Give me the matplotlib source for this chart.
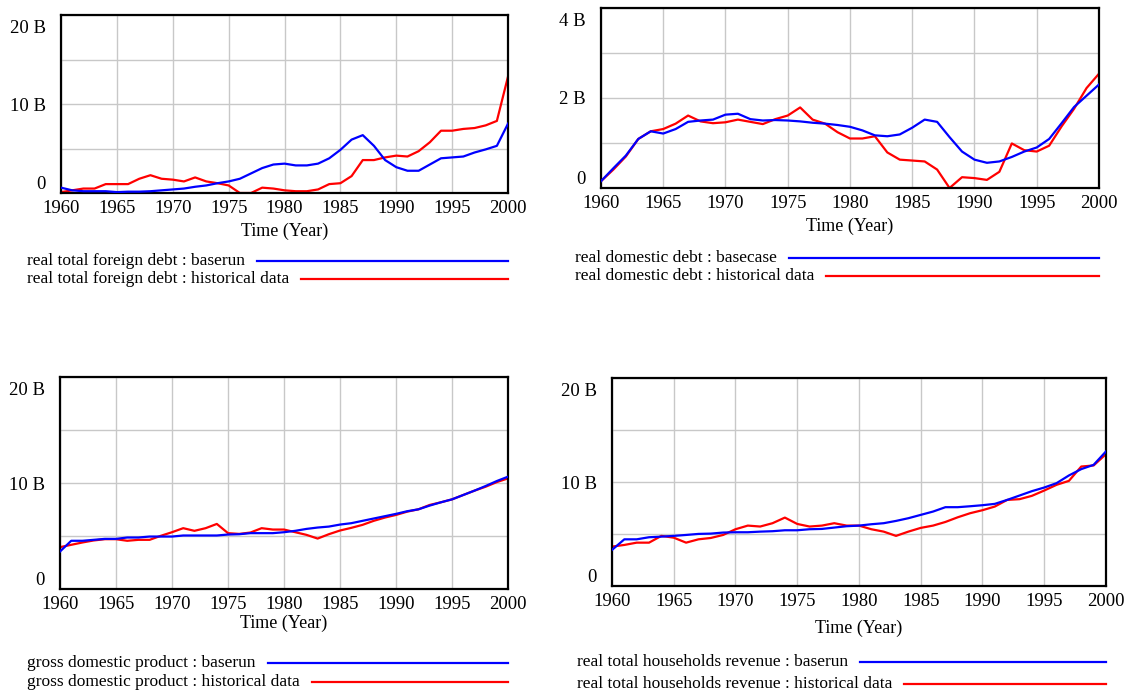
import matplotlib
matplotlib.use("Agg")
import matplotlib.pyplot as plt
from matplotlib.lines import Line2D
from matplotlib.transforms import ScaledTranslation
import numpy as np

plt.rcParams["font.family"] = ["Liberation Serif", "DejaVu Serif"]

years = np.arange(1960, 2001)

# real total foreign debt (billions)
foreign_base = [0.6, 0.3, 0.2, 0.2, 0.2, 0.1, 0.15, 0.15, 0.2, 0.3,
                0.4, 0.5, 0.7, 0.85, 1.1, 1.3, 1.6, 2.2, 2.8, 3.2,
                3.3, 3.1, 3.1, 3.3, 3.9, 4.85, 6.0, 6.5, 5.3, 3.7,
                2.9, 2.5, 2.5, 3.2, 3.9, 4.0, 4.1, 4.55, 4.9, 5.3, 7.8]
foreign_hist = [0.1, 0.3, 0.5, 0.5, 1.0, 1.0, 1.0, 1.6, 2.0, 1.6,
                1.5, 1.3, 1.75, 1.3, 1.1, 0.85, 0.0, 0.0, 0.6, 0.5,
                0.3, 0.2, 0.2, 0.4, 1.0, 1.1, 1.9, 3.7, 3.7, 4.0,
                4.2, 4.1, 4.7, 5.7, 7.0, 7.0, 7.2, 7.3, 7.6, 8.1, 13.1]

# real domestic debt (billions)
domestic_base = [0.15, 0.44, 0.72, 1.09, 1.26, 1.21, 1.31, 1.47, 1.50, 1.52,
                 1.63, 1.65, 1.53, 1.50, 1.51, 1.50, 1.48, 1.45, 1.43, 1.40,
                 1.36, 1.28, 1.17, 1.15, 1.19, 1.34, 1.52, 1.47, 1.13, 0.81,
                 0.63, 0.56, 0.59, 0.69, 0.81, 0.90, 1.09, 1.44, 1.80, 2.05, 2.30]
domestic_hist = [0.15, 0.41, 0.70, 1.09, 1.26, 1.31, 1.43, 1.61, 1.48, 1.44,
                 1.46, 1.52, 1.47, 1.42, 1.53, 1.61, 1.79, 1.52, 1.43, 1.24,
                 1.10, 1.10, 1.15, 0.79, 0.63, 0.61, 0.59, 0.41, 0.0, 0.24,
                 0.22, 0.18, 0.36, 0.99, 0.84, 0.81, 0.94, 1.37, 1.76, 2.22, 2.54]

# gross domestic product (billions)
gdp_base = [3.54, 4.55, 4.55, 4.64, 4.73, 4.73, 4.86, 4.86, 4.95, 4.95,
            4.95, 5.05, 5.05, 5.05, 5.05, 5.14, 5.17, 5.27, 5.27, 5.27,
            5.36, 5.49, 5.67, 5.80, 5.89, 6.08, 6.21, 6.43, 6.65, 6.87,
            7.09, 7.34, 7.52, 7.87, 8.18, 8.46, 8.87, 9.28, 9.72, 10.19, 10.60]
gdp_hist = [3.95, 4.17, 4.39, 4.58, 4.70, 4.70, 4.55, 4.64, 4.64, 5.02,
            5.36, 5.74, 5.49, 5.74, 6.14, 5.27, 5.20, 5.33, 5.74, 5.61,
            5.61, 5.36, 5.11, 4.76, 5.17, 5.52, 5.77, 6.05, 6.43, 6.74,
            6.99, 7.30, 7.52, 7.93, 8.18, 8.46, 8.87, 9.28, 9.65, 10.09, 10.44]

# real total households revenue (billions)
house_base = [3.47, 4.49, 4.49, 4.69, 4.75, 4.82, 4.91, 5.01, 5.04, 5.14,
              5.17, 5.17, 5.23, 5.27, 5.36, 5.36, 5.46, 5.49, 5.62, 5.75,
              5.81, 5.94, 6.04, 6.26, 6.52, 6.84, 7.16, 7.58, 7.58, 7.67,
              7.77, 7.90, 8.28, 8.70, 9.12, 9.47, 9.89, 10.63, 11.24, 11.65, 12.94]
house_hist = [3.79, 3.95, 4.17, 4.17, 4.82, 4.65, 4.17, 4.49, 4.62, 4.91,
              5.46, 5.81, 5.72, 6.04, 6.58, 5.97, 5.72, 5.81, 6.04, 5.81,
              5.81, 5.46, 5.23, 4.82, 5.23, 5.59, 5.81, 6.16, 6.61, 7.00,
              7.29, 7.64, 8.28, 8.35, 8.67, 9.18, 9.73, 10.11, 11.49, 11.59, 12.68]

panels = [
    dict(rect=[0.0542, 0.7223, 0.3970, 0.2561], base=foreign_base, hist=foreign_hist,
         ymax=20, ylabels=["0", "", "10 B", "", "20 B"],
         names=["real total foreign debt : baserun", "real total foreign debt : historical data"],
         leg_x=27, leg_y=[261, 279], xpad=4),
    dict(rect=[0.5337, 0.7295, 0.4423, 0.2590], base=domestic_base, hist=domestic_hist,
         ymax=4, ylabels=["0", "", "2 B", "", "4 B"],
         names=["real domestic debt : basecase", "real domestic debt : historical data"],
         leg_x=575, leg_y=[258, 276], xpad=4),
    dict(rect=[0.0533, 0.1525, 0.3979, 0.3050], base=gdp_base, hist=gdp_hist,
         ymax=20, ylabels=["0", "", "10 B", "", "20 B"],
         names=["gross domestic product : baserun", "gross domestic product : historical data"],
         leg_x=27, leg_y=[663, 682], xpad=1),
    dict(rect=[0.5435, 0.1568, 0.4387, 0.2993], base=house_base, hist=house_hist,
         ymax=20, ylabels=["0", "", "10 B", "", "20 B"],
         names=["real total households revenue : baserun",
                "real total households revenue : historical data"],
         leg_x=577, leg_y=[662, 684], xpad=7),
]

W, H = 1126, 695
fig = plt.figure(figsize=(W / 100, H / 100), dpi=100)
fig.canvas.draw()
renderer = fig.canvas.get_renderer()
shift_down = ScaledTranslation(0, -5 / 100, fig.dpi_scale_trans)

for p in panels:
    ax = fig.add_axes(p["rect"])
    ax.plot(years, p["base"], color="#0000ff", lw=1.6, zorder=3)
    ax.plot(years, p["hist"], color="#ff0000", lw=1.6, zorder=2)
    ax.set_xlim(1960, 2000)
    ax.set_ylim(0, p["ymax"])
    ax.set_xticks(np.arange(1960, 2001, 5))
    ax.set_yticks(np.linspace(0, p["ymax"], 5))
    ax.set_yticklabels(p["ylabels"])
    ax.tick_params(length=0, labelsize=13.5, colors="black")
    ax.tick_params(axis="y", pad=11)
    ax.tick_params(axis="x", pad=5)
    ylab = ax.get_yticklabels()
    ylab[0].set_va("bottom")
    ylab[-1].set_va("top")
    ylab[-1].set_transform(ylab[-1].get_transform() + shift_down)
    ax.grid(True, color="#c8c8c8", lw=1)
    ax.set_axisbelow(True)
    for s in ax.spines.values():
        s.set_linewidth(1.6)
    ax.set_xlabel("Time (Year)", fontsize=13, labelpad=p["xpad"])

    # legend drawn as text + line, like the original tool's layout
    right = (p["rect"][0] + p["rect"][2]) * W
    for name, col, yy in zip(p["names"], ["#0000ff", "#ff0000"], p["leg_y"]):
        t = fig.text(p["leg_x"] / W, 1 - yy / H, name, fontsize=12.5, va="center", ha="left")
        ext = t.get_window_extent(renderer=renderer)
        x0 = ext.x1 + 12
        fig.add_artist(Line2D([x0 / W, right / W], [1 - yy / H, 1 - yy / H],
                              transform=fig.transFigure, color=col, lw=1.6))

fig.savefig("out.png", dpi=100)
